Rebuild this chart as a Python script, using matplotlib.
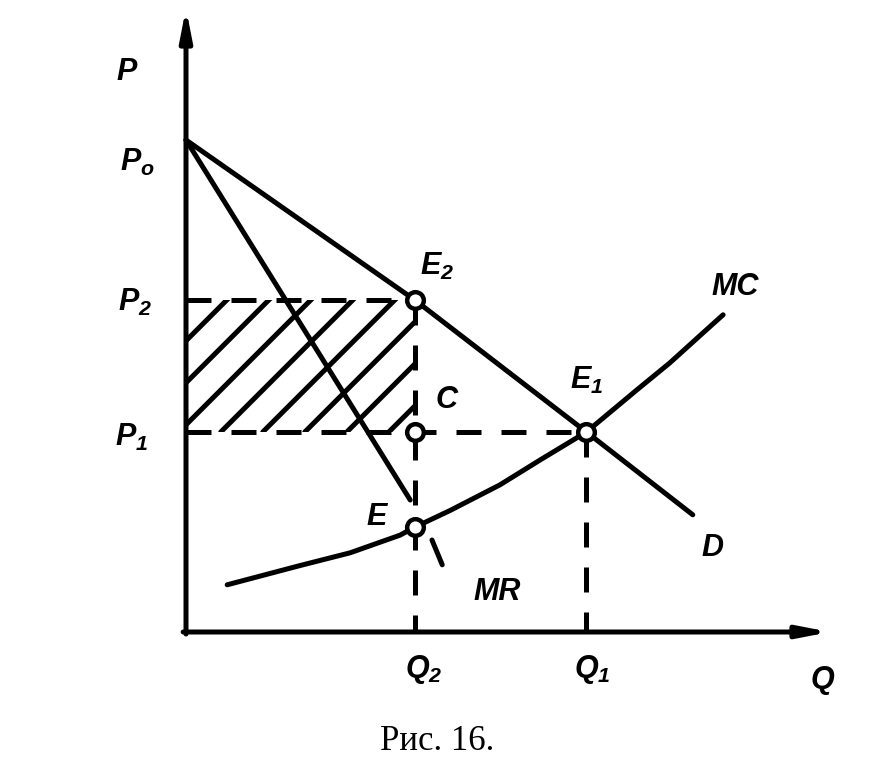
import matplotlib
matplotlib.use("Agg")
import matplotlib.pyplot as plt
import numpy as np

# --- values (schematic units) ---
Q2, Q1 = 4.0, 7.0
P0, P2, P1, PE = 12.3, 8.3, 5.0, 2.62

demand_q = [0.0, Q2, Q1, 8.86]
demand_p = [P0, P2, P1, 2.93]

mr_q = [0.0, 3.92]
mr_p = [P0, 3.3]
mr_tail_q = [4.3, 4.48]
mr_tail_p = [2.3, 1.68]

mc_q = [0.72, 1.99, 2.87, 3.74, Q2, 4.62, 5.49, 6.19, Q1, 7.88, 8.46, 9.04, 9.39]
mc_p = [1.18, 1.66, 1.98, 2.42, PE, 3.04, 3.68, 4.30, P1, 6.05, 6.73, 7.48, 7.93]

point_q = [Q2, Q2, Q1, Q2]
point_p = [P2, P1, P1, PE]

# pixel geometry of the scanned figure: origin at (186, 632), 57.2 px per Q, 40 px per P
X0, Y0, SX, SY = 186, 632, 57.2, 40.0
W, H = 875, 769


def px(x, y):
    return (x - X0) / SX, (Y0 - y) / SY


plt.rcParams["mathtext.fontset"] = "custom"
plt.rcParams["mathtext.it"] = "Liberation Sans:italic:bold"
plt.rcParams["mathtext.rm"] = "Liberation Sans:italic:bold"

fig = plt.figure(figsize=(W / 100, H / 100), dpi=100)
ax = fig.add_axes([0, 0, 1, 1])
ax.set_xlim(-X0 / SX, (W - X0) / SX)
ax.set_ylim(-(H - Y0) / SY, Y0 / SY)
ax.axis("off")

LW = 3.6
k = "black"

# hatched area between P1 and P2, left of Q2 (sparse 45-degree strokes, clipped)
rect = plt.Rectangle((0, P1), Q2, P2 - P1, facecolor="none", edgecolor="none")
ax.add_patch(rect)
slope = SX / SY
step = 42 / SX
for off in np.arange(-6, 5, step):
    xs = np.array([off, off + 8])
    ln, = ax.plot(xs, P1 + (xs - off) * slope, color=k, lw=LW, solid_capstyle="round")
    ln.set_clip_path(rect)

# dashed guides
dash = (0, (5, 4))
ax.plot([0, Q2], [P2, P2], color=k, lw=LW, ls=dash)
ax.plot([0, Q1], [P1, P1], color=k, lw=LW, ls=dash)
ax.plot([Q2, Q2], [P2, 0], color=k, lw=LW, ls=dash)
ax.plot([Q1, Q1], [P1, 0], color=k, lw=LW, ls=dash)

# curves
ax.plot(demand_q, demand_p, color=k, lw=LW, solid_capstyle="round")
ax.plot(mr_q, mr_p, color=k, lw=LW, solid_capstyle="round")
ax.plot(mr_tail_q, mr_tail_p, color=k, lw=LW, solid_capstyle="round")
ax.plot(mc_q, mc_p, color=k, lw=LW, solid_capstyle="round", solid_joinstyle="round")

# axes with arrows
arrow = dict(arrowstyle="-|>,head_length=1.8,head_width=0.35", color=k, lw=LW,
             shrinkA=0, shrinkB=0)
ax.annotate("", xy=px(186, 8), xytext=(0, -0.05), arrowprops=arrow)
ax.annotate("", xy=px(830, 632), xytext=(-0.05, 0), arrowprops=arrow)

# equilibrium points
ax.plot(point_q, point_p, "o", ms=12, mfc="white", mec=k, mew=3.2, zorder=5)

fs = 22
lab = dict(fontsize=fs, ha="center", va="center", family="Liberation Sans",
           fontweight="bold", fontstyle="italic")
labels = [
    ("P", 127, 72), ("$P_o$", 137, 162), ("$P_2$", 135, 302), ("$P_1$", 132, 437),
    ("$Q_2$", 424, 670), ("$Q_1$", 592, 670), ("Q", 822, 680),
    ("$E_2$", 437, 266), ("$E_1$", 587, 380), ("C", 447, 400), ("E", 377, 517),
    ("MC", 735, 287), ("D", 712, 548), ("MR", 497, 592),
]
for s, x, y in labels:
    ax.text(*px(x, y), s, **lab)

ax.text(*px(437, 742), "Рис. 16.", fontsize=25, ha="center", va="center",
        family="Liberation Serif")

fig.savefig("out.png", dpi=100)
